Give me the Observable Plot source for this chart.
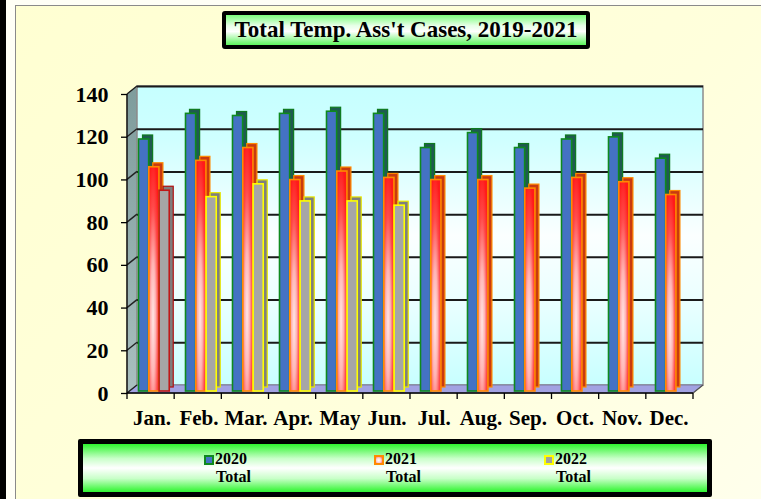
<!DOCTYPE html>
<html>
<head>
<meta charset="utf-8">
<script src="https://cdn.jsdelivr.net/npm/d3@7"></script>
<script src="https://cdn.jsdelivr.net/npm/@observablehq/plot@0.6"></script>
<style>
  html, body { margin: 0; padding: 0; }
  body { width: 761px; height: 499px; position: relative; overflow: hidden; background: #FFFFF6; font-family: "Liberation Serif", serif; }
  #leftbar { position: absolute; left: 0; top: 0; width: 6px; height: 499px; background: #000; }
  #area { position: absolute; left: 15px; top: 5px; width: 746px; height: 494px; border-left: 1px solid #8a8a8a; border-top: 1px solid #8a8a8a; background: linear-gradient(135deg, #FFFFD2 0%, #FFFFDC 60%, #FFFFEC 100%); }
  #chart { position: absolute; left: 0; top: 0; }
  #title { position: absolute; left: 222px; top: 11px; width: 360px; height: 30px; border: 4px solid #000; border-radius: 3px;
    background: linear-gradient(to bottom, #7CFF7C 0%, #E6FFE6 35%, #FFFFFF 55%, #5CF55C 100%);
    font-weight: bold; font-size: 23px; line-height: 30px; text-align: center; color: #000; white-space: nowrap; }
  #legend { position: absolute; left: 78px; top: 439px; width: 624px; height: 48px; border: 5px solid #000; border-radius: 2px;
    background: linear-gradient(to bottom, #2EF52E 0%, #C8FFC8 30%, #FFFFFF 50%, #C8FFC8 72%, #2EF52E 100%); }
  .item { position: absolute; top: 6px; font-weight: bold; font-size: 16px; line-height: 18px; color: #000; }
  .sw { position: absolute; left: 0; top: 5px; width: 6px; height: 6px; border: 2px solid; }
  .item .t1 { position: absolute; left: 11px; top: 0; }
  .item .t2 { position: absolute; left: 12px; top: 18px; }
</style>
</head>
<body>
<div id="leftbar"></div>
<div id="area"></div>
<div id="chart"></div>
<div id="title"></div>
<div id="legend"></div>
<script>
// ---- data ----
const months = ["Jan.", "Feb.", "Mar.", "Apr.", "May", "Jun.", "Jul.", "Aug.", "Sep.", "Oct.", "Nov.", "Dec."];
const values2020 = [118, 130, 129, 130, 131, 130, 114, 121, 114, 118, 119, 109];
const values2021 = [105, 108, 114, 99, 103, 100, 99, 99, 95, 100, 98, 92];
const values2022 = [94, 91, 97, 89, 89, 87];
const seriesNames = ["2020 Total", "2021 Total", "2022 Total"];
const yTicks = [0, 20, 40, 60, 80, 100, 120, 140];
const titleText = "Total Temp. Ass't Cases, 2019-2021";

// ---- build rows ----
const seriesValues = [values2020, values2021, values2022];
const rows = [];
seriesValues.forEach((vals, s) => vals.forEach((v, i) => rows.push({month: months[i], series: seriesNames[s], value: v, idx: i})));

const W = 761, H = 499;
const mL = 127, mR = 68, mT = 94, mB = 106;
const DX = 10, DY = -8;          // depth of the 3D box
const bw = (W - mL - mR) / months.length;
const barW = 10.3, firstOff = 10.5;

// styles per series
const styles = [
  {fill: "#4472C4", stroke: "#0E8A1E", back: "#1F5A50", backStroke: "#0E7A1E"},
  {fill: "url(#gRed)", stroke: "#FF8A00", back: "#C83A10", backStroke: "#FF8A00"},
  {fill: "#A6A6A6", stroke: "#FFFF00", back: "#7E7E7E", backStroke: "#E8E800"}
];

function backdrop(index, scales, values, dims) {
  const {width, height, marginLeft, marginRight, marginTop, marginBottom} = dims;
  const x0 = marginLeft, x1 = width - marginRight, yT = marginTop, yB = height - marginBottom;
  const y = scales.y;
  const g = d3.create("svg:g");
  const defs = g.append("defs");
  const wall = defs.append("linearGradient").attr("id", "gWall").attr("x1", 0).attr("y1", 0).attr("x2", 0).attr("y2", 1);
  [[0, "#C6FFFF"], [0.18, "#CFFFFF"], [0.5, "#FBFFFF"], [0.72, "#EAFFFF"], [1, "#C8FFFF"]].forEach(([o, c]) => wall.append("stop").attr("offset", o).attr("stop-color", c));
  const side = defs.append("linearGradient").attr("id", "gSide").attr("x1", 0).attr("y1", 0).attr("x2", 0).attr("y2", 1);
  [[0, "#7E9C9C"], [1, "#A9BFBF"]].forEach(([o, c]) => side.append("stop").attr("offset", o).attr("stop-color", c));
  const red = defs.append("radialGradient").attr("id", "gRed").attr("cx", 0.42).attr("cy", 0.68).attr("r", 0.72);
  [[0, "#FFE6E6"], [0.35, "#FFB4B4"], [0.7, "#FF4A4A"], [1, "#FF1A1A"]].forEach(([o, c]) => red.append("stop").attr("offset", o).attr("stop-color", c));

  g.append("polygon").attr("points", [[x0, yB], [x0, yT], [x0 + DX, yT + DY], [x0 + DX, yB + DY]].join(" "))
    .attr("fill", "url(#gSide)").attr("stroke", "#8c8c8c").attr("stroke-width", 1);
  g.append("rect").attr("x", x0 + DX).attr("y", yT + DY).attr("width", x1 - x0).attr("height", yB - yT)
    .attr("fill", "url(#gWall)").attr("stroke", "#8c8c8c").attr("stroke-width", 1.5);
  g.append("polygon").attr("points", [[x0, yB], [x1, yB], [x1 + DX, yB + DY], [x0 + DX, yB + DY]].join(" "))
    .attr("fill", "#A2A2E2").attr("stroke", "#7a7a9a").attr("stroke-width", 1);
  yTicks.forEach(v => {
    g.append("line").attr("x1", x0).attr("y1", y(v)).attr("x2", x0 + DX).attr("y2", y(v) + DY)
      .attr("stroke", "#222").attr("stroke-width", 1.5);
  });
  return g.node();
}

function frameAxes(index, scales, values, dims) {
  const {width, height, marginLeft, marginRight, marginTop, marginBottom} = dims;
  const x0 = marginLeft, x1 = width - marginRight, yT = marginTop, yB = height - marginBottom;
  const g = d3.create("svg:g").attr("stroke", "#000");
  g.append("line").attr("x1", x0).attr("x2", x0).attr("y1", yT).attr("y2", yB).attr("stroke-width", 1.3);
  g.append("line").attr("x1", x0).attr("x2", x1).attr("y1", yB).attr("y2", yB).attr("stroke-width", 1.3);
  g.append("line").attr("x1", x1).attr("x2", x1 + DX).attr("y1", yB).attr("y2", yB + DY).attr("stroke", "#555").attr("stroke-width", 1.3);
  const step = (x1 - x0) / months.length;
  for (let i = 0; i <= months.length; i++) {
    const xx = x0 + i * step;
    g.append("line").attr("x1", xx).attr("x2", xx).attr("y1", yB).attr("y2", yB + 6).attr("stroke-width", 1.3);
  }
  return g.node();
}

const barMarks = [];
seriesNames.forEach((name, s) => {
  const data = rows.filter(r => r.series === name);
  const st = styles[s];
  const iL = firstOff + s * barW;
  const iR = bw - (iL + barW);
  const special = r => s === 2 && r.idx === 0;
  const strokeFn = r => special(r) ? "#C01818" : st.stroke;
  const backStrokeFn = r => special(r) ? "#B01010" : st.backStroke;
  barMarks.push(Plot.barY(data, {x: "month", y: "value", insetLeft: iL, insetRight: iR, dx: 4, dy: -6,
    fill: st.back, stroke: backStrokeFn, strokeWidth: 1.2}));
  barMarks.push(Plot.barY(data, {x: "month", y: "value", insetLeft: iL, insetRight: iR, dy: -2,
    fill: st.fill, stroke: strokeFn, strokeWidth: 1.6}));
});

const chart = Plot.plot({
  width: W, height: H,
  marginLeft: mL, marginRight: mR, marginTop: mT, marginBottom: mB,
  style: {background: "transparent", overflow: "visible", fontFamily: "Liberation Serif"},
  x: {type: "band", domain: months, padding: 0, axis: null},
  y: {domain: [0, 140], axis: null},
  marks: [
    backdrop,
    Plot.ruleY(yTicks.filter(v => v > 0), {dx: DX, dy: DY, stroke: "#1a1a1a", strokeWidth: 2}),
    ...barMarks,
    frameAxes,
    Plot.axisY({ticks: yTicks, tickSize: 6, tickPadding: 13, fontSize: 22, fontWeight: "bold", fontFamily: "Liberation Serif", label: null, stroke: "#000", strokeWidth: 1.3, tickFormat: d => String(d)}),
    Plot.axisX({tickSize: 0, tickPadding: 17, fontSize: 21, fontWeight: "bold", fontFamily: "Liberation Serif", label: null})
  ]
});
document.getElementById("chart").appendChild(chart);

document.getElementById("title").textContent = titleText;

// legend
const legend = document.getElementById("legend");
const swatches = [
  {bg: "#4472C4", bd: "#0E8A1E"},
  {bg: "radial-gradient(circle at 45% 55%, #FFFFFF 0%, #FFD0D0 50%, #FF5050 100%)", bd: "#FF8A00"},
  {bg: "#A0A0A0", bd: "#FFFF00"}
];
const itemLeft = [121, 291, 461];
seriesNames.forEach((name, i) => {
  const [yr, tot] = name.split(" ");
  const it = document.createElement("div");
  it.className = "item";
  it.style.left = itemLeft[i] + "px";
  it.innerHTML = `<div class="sw" style="background:${swatches[i].bg};border-color:${swatches[i].bd}"></div><span class="t1">${yr}</span><span class="t2">${tot}</span>`;
  legend.appendChild(it);
});
</script>
</body>
</html>
